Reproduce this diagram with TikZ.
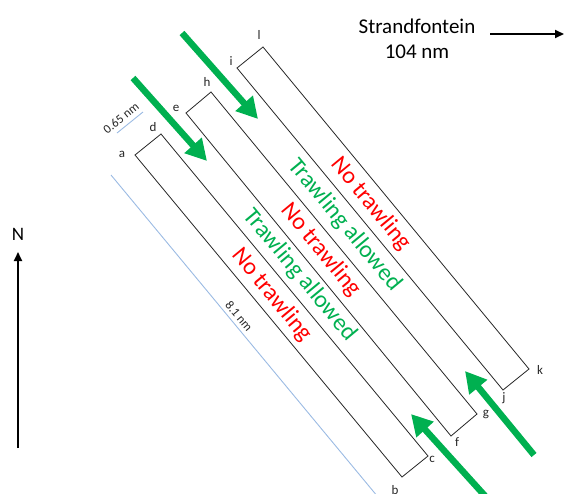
\documentclass[tikz,border=0pt]{standalone}
\usepackage{fontspec}
\setmainfont{Carlito}
\usetikzlibrary{arrows.meta,calc}
\definecolor{offgreen}{HTML}{00B050}
\definecolor{lineblue}{HTML}{9BBBE3}
\begin{document}
\begin{tikzpicture}[x=1pt,y=-1pt,
  strip/.style={draw=black!85,line width=0.8pt},
  corner/.style={font=\fontsize{13}{15}\selectfont,text=black!85,inner sep=0pt},
  zone/.style={font=\fontsize{24}{28}\selectfont,rotate=-50.33,inner sep=0pt},
  notrawl/.style={zone,text=red},
  trawl/.style={zone,text=offgreen},
  greenarrow/.style={draw=offgreen,line width=6.5pt,-{Triangle[length=21pt,width=22pt]}},
  blackarrow/.style={draw=black,line width=1.8pt,-{Triangle[length=9pt,width=8pt]}},
  measure/.style={draw=lineblue,line width=0.9pt},
  dim/.style={font=\fontsize{12.5}{14}\selectfont,text=black!85,inner sep=0pt}]
\useasboundingbox (0,0) rectangle (564,493);
\clip (0,0) rectangle (564,493);
% corners
\coordinate (a) at (135,155); \coordinate (d) at (161,134);
\coordinate (c) at (428,456); \coordinate (b) at (402,477);
\coordinate (e) at (186,113); \coordinate (h) at (211,92);
\coordinate (g) at (477,414); \coordinate (f) at (451,436);
\coordinate (i) at (237,68);  \coordinate (l) at (263,47);
\coordinate (k) at (529,369); \coordinate (j) at (503,390);
% strips
\draw[strip] (a) -- (d) -- (c) -- (b) -- cycle;
\draw[strip] (e) -- (h) -- (g) -- (f) -- cycle;
\draw[strip] (i) -- (l) -- (k) -- (j) -- cycle;
% corner labels
\node[corner] (la) at (122,154) {a};
\node[corner] (ld) at (153,127) {d};
\node[corner] (le) at (176,108) {e};
\node[corner] (lh) at (207,82) {h};
\node[corner] (li) at (231,61) {i};
\node[corner] (ll) at (259,35) {l};
\node[corner] (lb) at (395,490) {b};
\node[corner] (lc) at (432,459) {c};
\node[corner] (lf) at (457,442) {f};
\node[corner] (lg) at (486,414) {g};
\node[corner] (lj) at (504,398) {j};
\node[corner] (lk) at (540,370) {k};
% zone texts
\node[notrawl] (z1) at (371,204) {No trawling};
\node[trawl]   (z2) at (345,225) {Trawling allowed};
\node[notrawl] (z3) at (321,250) {No trawling};
\node[trawl]   (z4) at (300,275) {Trawling allowed};
\node[notrawl] (z5) at (272,295) {No trawling};
% measures
\coordinate (w1) at (117,133); \coordinate (w2) at (143,112);
\draw[measure] (w1) -- (w2);
\node[dim,rotate=39] (wl) at (121,118) {0.65 nm};
\coordinate (m1) at (111,175); \coordinate (m2) at (378,497);
\draw[measure] (m1) -- (m2);
\node[dim,rotate=-50.33] (ml) at (239,316) {8.1 nm};
% green arrows
\coordinate (ga1) at (133,78);  \coordinate (gb1) at (207,161);
\coordinate (ga2) at (182,33);  \coordinate (gb2) at (258,119);
\coordinate (ga3) at (486,497); \coordinate (gb3) at (411,414);
\coordinate (ga4) at (534,455); \coordinate (gb4) at (465,371);
\draw[greenarrow] (ga1) -- (gb1);
\draw[greenarrow] (ga2) -- (gb2);
\draw[greenarrow] (ga3) -- (gb3);
\draw[greenarrow] (ga4) -- (gb4);
% Strandfontein
\node[font=\fontsize{21}{25}\selectfont,align=center,inner sep=0pt] (st) at (417,39) {Strandfontein\\104 nm};
\coordinate (s1) at (490,34); \coordinate (s2) at (564,34);
\draw[blackarrow] (s1) -- (s2);
% North
\node[font=\fontsize{19}{22}\selectfont,inner sep=0pt] (north) at (18,234) {N};
\coordinate (n1) at (18,448); \coordinate (n2) at (18,252);
\draw[blackarrow] (n1) -- (n2);
\end{tikzpicture}
\end{document}
